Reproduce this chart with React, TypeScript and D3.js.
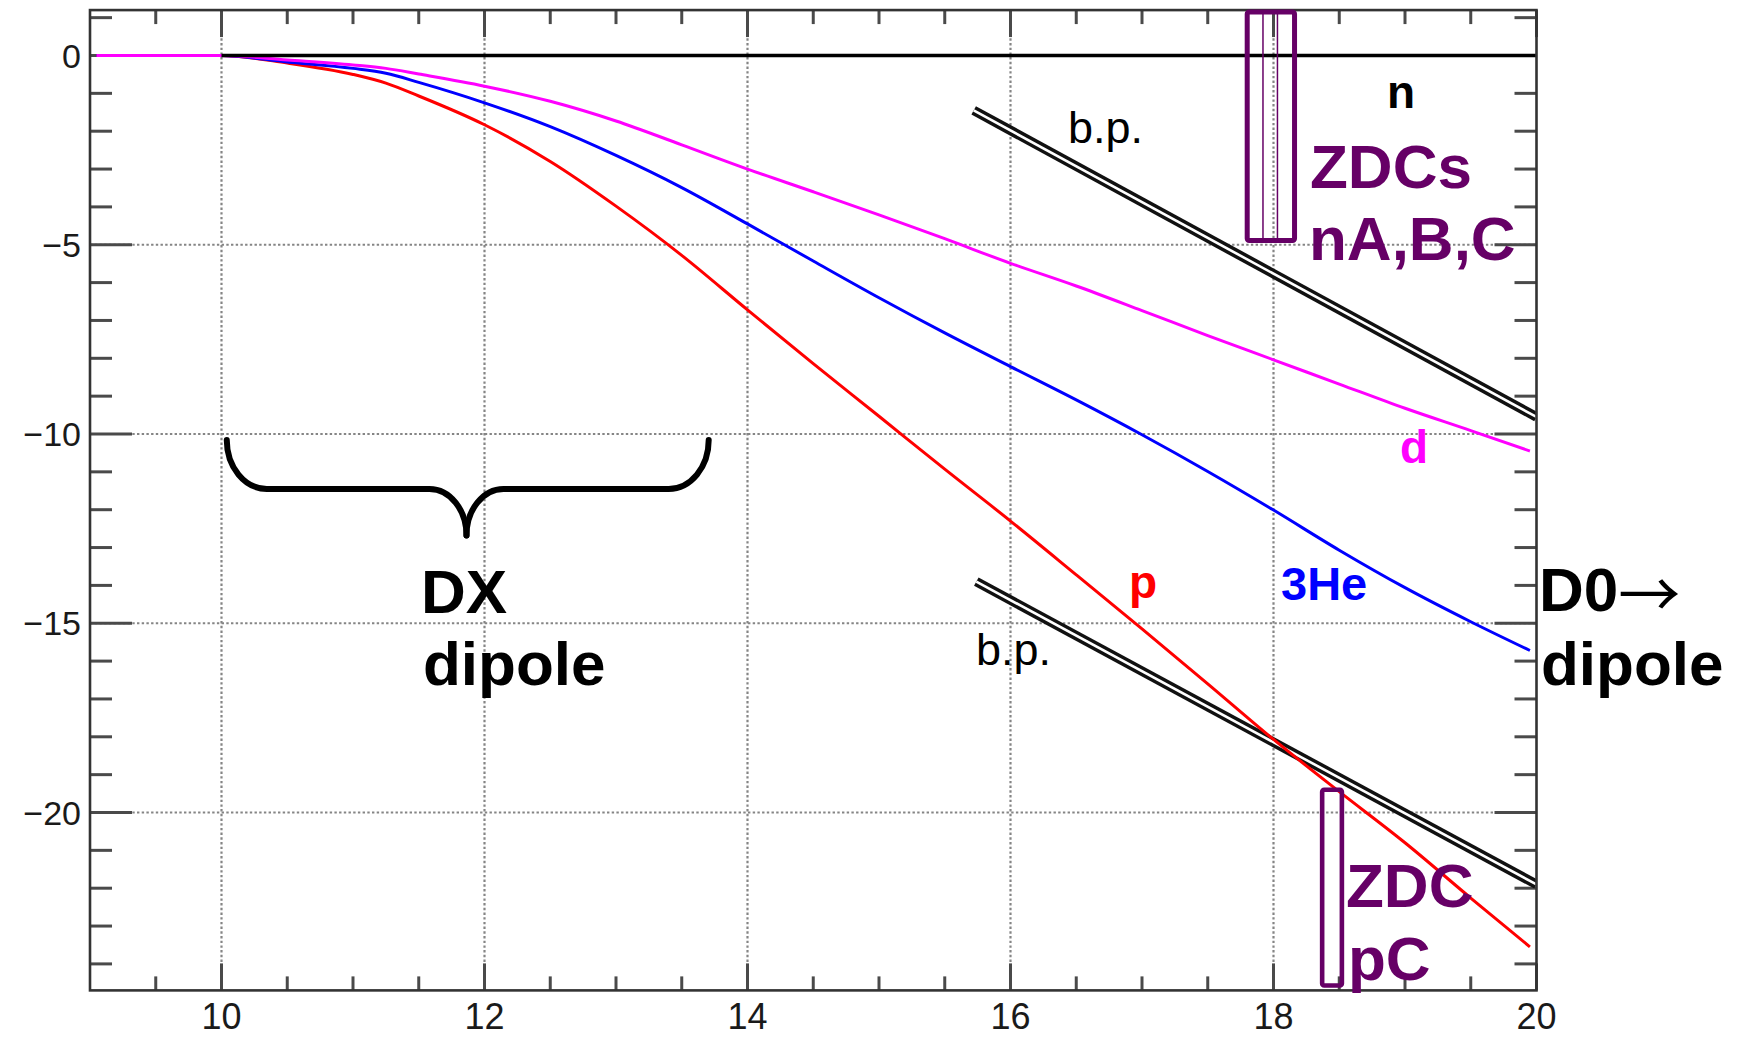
import React from 'react';
import * as d3 from 'd3';

const W = 1746;
const H = 1038;

// axis ticks
const xMajor = [10, 12, 14, 16, 18, 20];
const xTickLabels = ['10', '12', '14', '16', '18', '20'];
const yMajor = [0, -5, -10, -15, -20];
const yTickLabels = ['0', '−5', '−10', '−15', '−20'];
const xGrid = [10, 12, 14, 16, 18];
const yGrid = [0, -5, -10, -15, -20];

// trajectories (z [m] vs x [cm])
const zPos = [9.05, 10, 10.5, 11, 11.25, 11.5, 12, 12.5, 13, 13.5, 14, 14.5, 15, 15.5, 16, 16.5, 17, 17.5, 18, 18.5, 19, 19.5, 19.95];
const dVals = [0, 0, -0.12, -0.25, -0.34, -0.49, -0.81, -1.21, -1.73, -2.36, -3.0, -3.6, -4.21, -4.84, -5.49, -6.09, -6.74, -7.4, -8.04, -8.68, -9.32, -9.91, -10.45];
const he3Vals = [0, 0, -0.17, -0.34, -0.47, -0.71, -1.25, -1.88, -2.64, -3.49, -4.45, -5.43, -6.4, -7.33, -8.22, -9.1, -10.02, -10.99, -12.01, -13.07, -14.06, -14.96, -15.72];
const pVals = [0, 0, -0.2, -0.5, -0.73, -1.07, -1.83, -2.8, -3.98, -5.28, -6.72, -8.14, -9.53, -10.93, -12.3, -13.72, -15.15, -16.6, -18.07, -19.45, -20.8, -22.26, -23.55];

// neutral line
const nLineX = [10, 20];
const nLineY = [0, 0];

// beam pipe walls
const bpUpperX = [15.72, 20];
const bpUpperY = [-1.45, -9.55];
const bpLowerX = [15.74, 20];
const bpLowerY = [-13.9, -21.9];

// ZDC boxes
const zdcNx = [17.8, 18.16];
const zdcNy = [1.15, -4.89];
const zdcNInner = [17.92, 18.03];
const zdcPx = [18.37, 18.52];
const zdcPy = [-19.4, -24.57];

// DX brace
const braceX = [10.04, 11.863, 13.705];
const braceY = [-10.16, -11.45, -12.68];

const FONT = "'Liberation Sans', Arial, Helvetica, sans-serif";
const PURPLE = '#660066';

export default function App() {
  const x = d3.scaleLinear().domain([9, 20]).range([90, 1536.5]);
  const y = d3.scaleLinear().domain([0, -20]).range([55.5, 812.5]);
  const yTopV = 1.2;
  const yBotV = -24.7;
  const left = x(9), right = x(20), top = y(yTopV), bottom = y(yBotV);

  const line = d3
    .line<[number, number]>()
    .x((d) => x(d[0]))
    .y((d) => y(d[1]))
    .curve(d3.curveMonotoneX);
  const straight = d3
    .line<[number, number]>()
    .x((d) => x(d[0]))
    .y((d) => y(d[1]));

  const series = [
    { vals: pVals, color: '#ff0000' },
    { vals: he3Vals, color: '#0000ff' },
    { vals: dVals, color: '#ff00ff' },
  ];

  const yMinor = d3.range(-24, 2).filter((v) => v % 5 !== 0);
  const xMinor = d3.range(9.5, 20, 0.5).filter((v) => v % 2 !== 0);

  // brace path
  const xl = x(braceX[0]), xm = x(braceX[1]), xr = x(braceX[2]);
  const yt = y(braceY[0]), yb = y(braceY[1]), ytip = y(braceY[2]);
  const k = 0.552;
  const r = 40;
  const rm = 37;
  const hb = yb - yt;
  const ht = ytip - yb;
  const braceLeft =
    `M${xl},${yt} C${xl},${yt + k * hb} ${xl + r - k * r},${yb} ${xl + r},${yb} ` +
    `L${xm - rm},${yb} C${xm - rm + k * rm},${yb} ${xm},${ytip - k * ht} ${xm},${ytip}`;
  const braceRight =
    `M${xr},${yt} C${xr},${yt + k * hb} ${xr - r + k * r},${yb} ${xr - r},${yb} ` +
    `L${xm + rm},${yb} C${xm + rm - k * rm},${yb} ${xm},${ytip - k * ht} ${xm},${ytip}`;

  const tickColor = '#4a4a4a';
  const gridColor = '#858585';

  const bpLines = [zipPts(bpUpperX, bpUpperY), zipPts(bpLowerX, bpLowerY)];

  return (
    <svg
      width={W}
      height={H}
      style={{ position: 'absolute', left: 0, top: 0, background: '#fff' }}
      fontFamily={FONT}
    >
      <rect x={0} y={0} width={W} height={H} fill="#fff" />
      <defs>
        <clipPath id="plotclip">
          <rect x={left} y={top} width={right - left} height={bottom - top} />
        </clipPath>
      </defs>

      {/* grid */}
      {xGrid.map((v) => (
        <line key={'gx' + v} x1={x(v)} x2={x(v)} y1={top} y2={bottom} stroke={gridColor} strokeWidth={2.2} strokeDasharray="2.4 2.3" />
      ))}
      {yGrid.map((v) => (
        <line key={'gy' + v} x1={left} x2={right} y1={y(v)} y2={y(v)} stroke={gridColor} strokeWidth={2.2} strokeDasharray="2.4 2.3" />
      ))}

      {/* ticks */}
      {yMajor.map((v) => (
        <g key={'ym' + v}>
          <line x1={left} x2={left + 42} y1={y(v)} y2={y(v)} stroke={tickColor} strokeWidth={3} />
          <line x1={right - 42} x2={right} y1={y(v)} y2={y(v)} stroke={tickColor} strokeWidth={3} />
        </g>
      ))}
      {yMinor.map((v) => (
        <g key={'yn' + v}>
          <line x1={left} x2={left + 22} y1={y(v)} y2={y(v)} stroke={tickColor} strokeWidth={3} />
          <line x1={right - 22} x2={right} y1={y(v)} y2={y(v)} stroke={tickColor} strokeWidth={3} />
        </g>
      ))}
      {xMajor.map((v) => (
        <g key={'xm' + v}>
          <line x1={x(v)} x2={x(v)} y1={bottom} y2={bottom - 27} stroke={tickColor} strokeWidth={3} />
          <line x1={x(v)} x2={x(v)} y1={top} y2={top + 27} stroke={tickColor} strokeWidth={3} />
        </g>
      ))}
      {xMinor.map((v) => (
        <g key={'xn' + v}>
          <line x1={x(v)} x2={x(v)} y1={bottom} y2={bottom - 14} stroke={tickColor} strokeWidth={3} />
          <line x1={x(v)} x2={x(v)} y1={top} y2={top + 14} stroke={tickColor} strokeWidth={3} />
        </g>
      ))}

      {/* tick labels */}
      {yMajor.map((v, i) => (
        <text key={'yl' + v} x={81} y={y(v) + 12} fontSize={34} textAnchor="end" fill="#1a1a1a">
          {yTickLabels[i]}
        </text>
      ))}
      {xMajor.map((v, i) => (
        <text key={'xl' + v} x={x(v)} y={1029} fontSize={36} textAnchor="middle" fill="#1a1a1a">
          {xTickLabels[i]}
        </text>
      ))}

      <g clipPath="url(#plotclip)">
        {/* beam pipe walls */}
        {bpLines.map((pts, i) => (
          <g key={'bp' + i}>
            <path d={straight(pts) || ''} stroke="#111" strokeWidth={9.5} fill="none" />
            <path d={straight(pts) || ''} stroke="#fff" strokeWidth={2.6} fill="none" />
          </g>
        ))}

        {/* trajectories */}
        {series.map((s) => (
          <path
            key={s.color}
            d={line(zipPts(zPos, s.vals)) || ''}
            stroke={s.color}
            strokeWidth={3}
            fill="none"
            strokeLinejoin="round"
          />
        ))}
        <path d={straight(zipPts(nLineX, nLineY)) || ''} stroke="#000" strokeWidth={3.5} fill="none" />
      </g>

      {/* frame */}
      <rect x={left} y={top} width={right - left} height={bottom - top} fill="none" stroke="#333" strokeWidth={2.6} />

      {/* ZDC boxes */}
      <rect
        x={x(zdcNx[0])}
        y={y(zdcNy[0])}
        width={x(zdcNx[1]) - x(zdcNx[0])}
        height={y(zdcNy[1]) - y(zdcNy[0])}
        fill="none"
        stroke={PURPLE}
        strokeWidth={5}
        rx={2}
      />
      {zdcNInner.map((v) => (
        <line key={'zi' + v} x1={x(v)} x2={x(v)} y1={y(zdcNy[0])} y2={y(zdcNy[1])} stroke={PURPLE} strokeWidth={1.5} />
      ))}
      <rect
        x={x(zdcPx[0])}
        y={y(zdcPy[0])}
        width={x(zdcPx[1]) - x(zdcPx[0])}
        height={y(zdcPy[1]) - y(zdcPy[0])}
        fill="none"
        stroke={PURPLE}
        strokeWidth={4.6}
        rx={2}
      />

      {/* brace */}
      <path d={braceLeft} stroke="#000" strokeWidth={6} fill="none" strokeLinecap="round" />
      <path d={braceRight} stroke="#000" strokeWidth={6} fill="none" strokeLinecap="round" />

      {/* labels */}
      <text x={1401} y={108} fontSize={46} fontWeight="bold" textAnchor="middle" fill="#000">n</text>
      <text x={1310} y={188} fontSize={62} fontWeight="bold" fill={PURPLE}>ZDCs</text>
      <text x={1309} y={260} fontSize={62} fontWeight="bold" fill={PURPLE}>nA,B,C</text>
      <text x={1068} y={143} fontSize={45} fill="#000">b.p.</text>
      <text x={976} y={665} fontSize={45} fill="#000">b.p.</text>
      <text x={1400} y={463} fontSize={46} fontWeight="bold" fill="#ff00ff">d</text>
      <text x={1129} y={598} fontSize={46} fontWeight="bold" fill="#ff0000">p</text>
      <text x={1281} y={600} fontSize={47} fontWeight="bold" fill="#0000ff">3He</text>
      <text x={421} y={613} fontSize={62} fontWeight="bold" fill="#000">DX</text>
      <text x={423} y={685} fontSize={62} fontWeight="bold" fill="#000">dipole</text>
      <text x={1539} y={611} fontSize={62} fontWeight="bold" fill="#000">
        D0<tspan fontWeight="normal" fontFamily="'Noto Sans CJK JP', 'Noto Sans CJK SC', sans-serif" fontSize={62} dy={7}>→</tspan>
      </text>
      <text x={1541} y={685} fontSize={62} fontWeight="bold" fill="#000">dipole</text>
      <text x={1346} y={907} fontSize={62} fontWeight="bold" fill={PURPLE}>ZDC</text>
      <text x={1348} y={980} fontSize={62} fontWeight="bold" fill={PURPLE}>pC</text>
    </svg>
  );
}

function zipPts(xs: number[], ys: number[]): [number, number][] {
  return xs.map((v, i) => [v, ys[i]] as [number, number]);
}
